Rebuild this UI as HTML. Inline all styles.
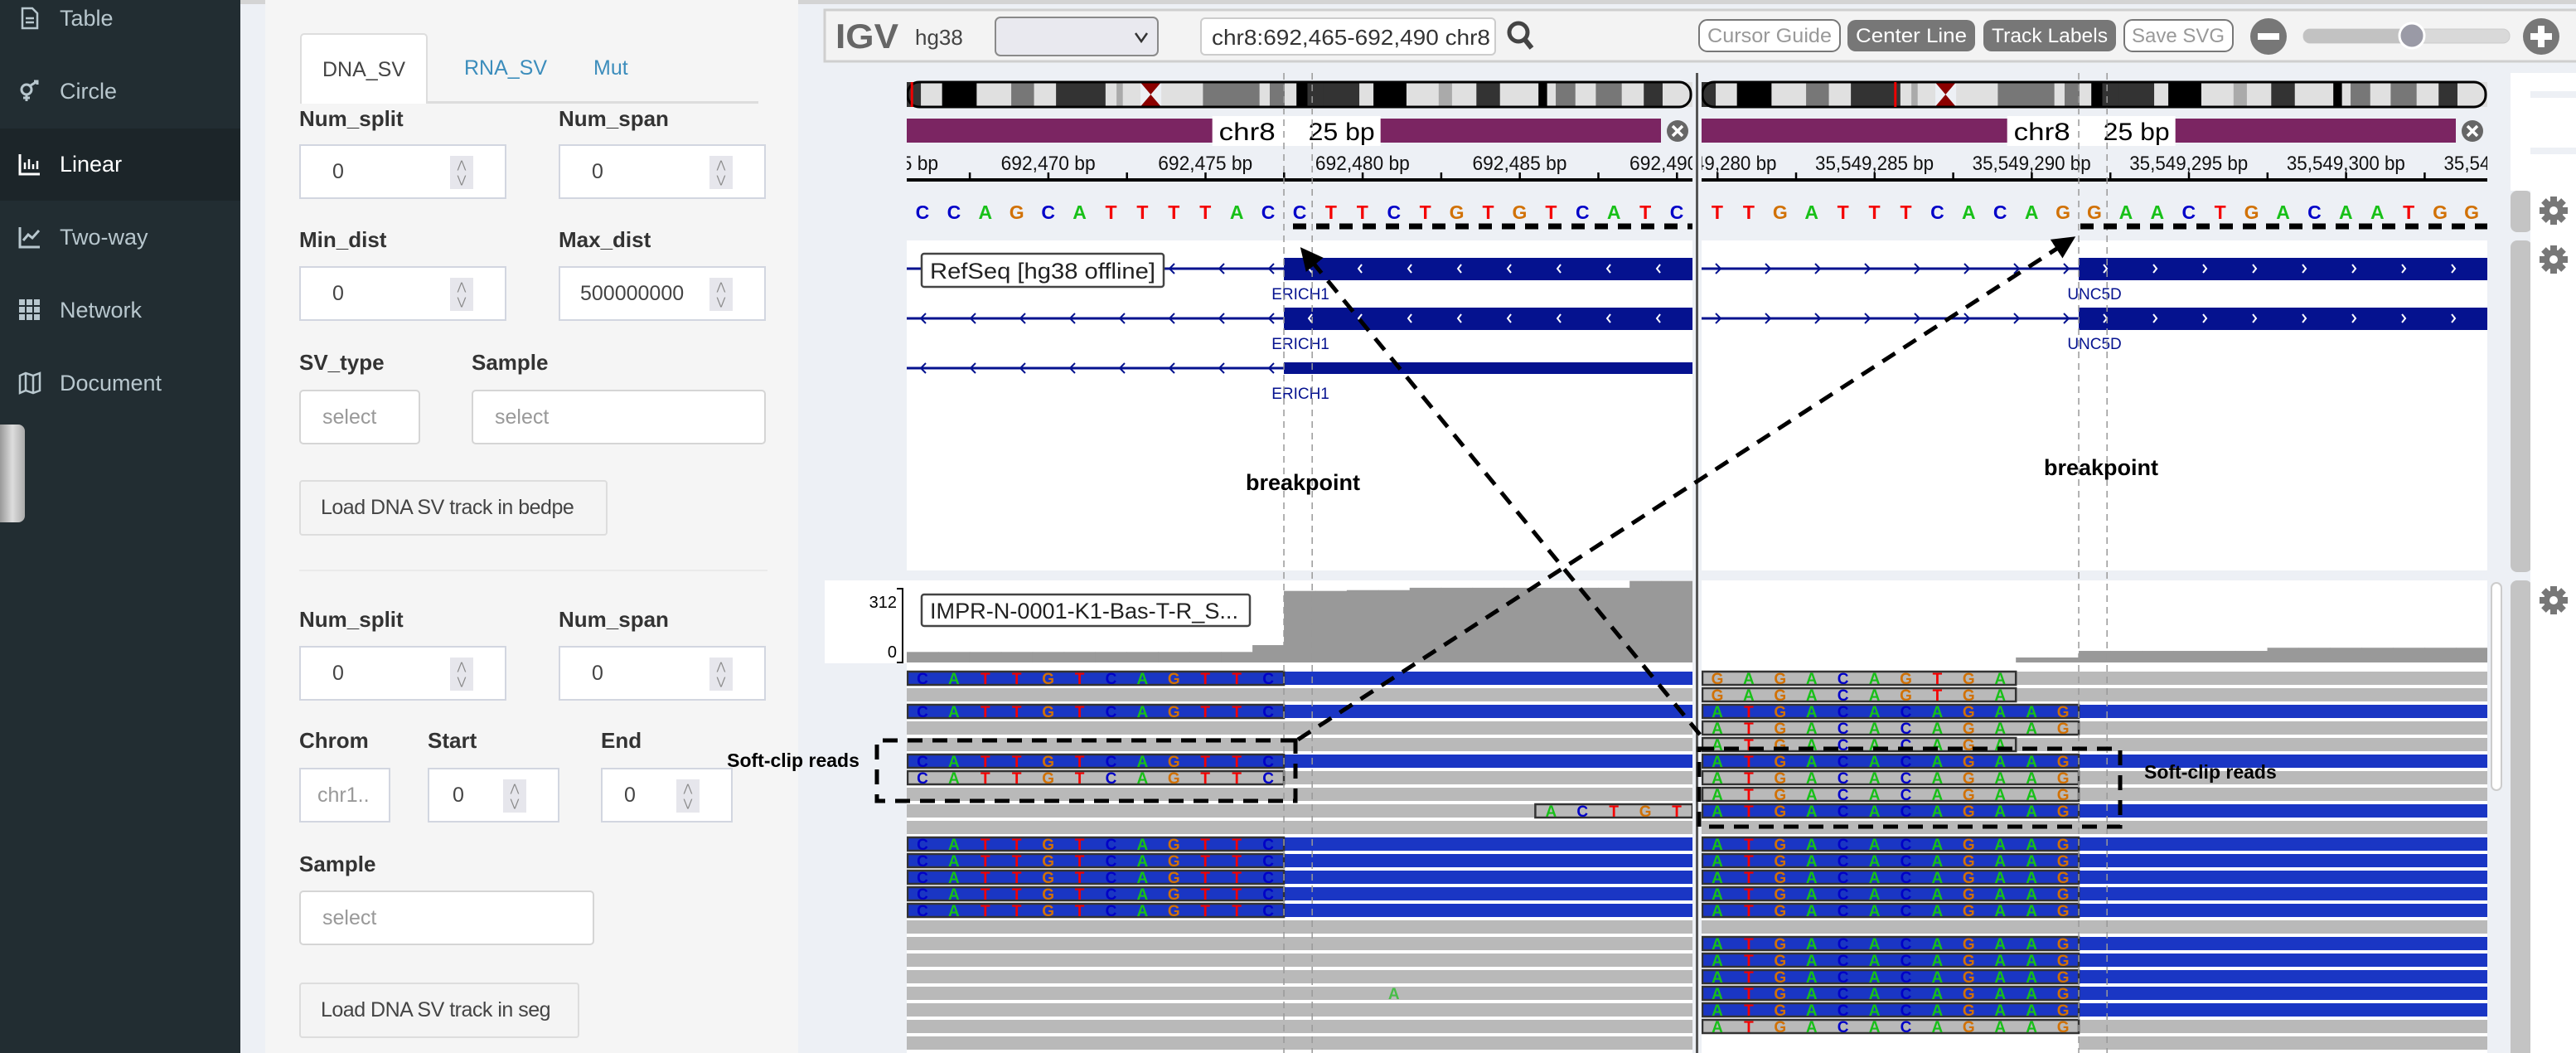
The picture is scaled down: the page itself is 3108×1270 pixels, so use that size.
<!DOCTYPE html>
<html style="overflow:hidden;width:3108px;height:1270px"><head><meta charset="utf-8"><title>IGV linear view</title>
<style>
*{box-sizing:border-box}
html,body{overflow:hidden}
body{margin:0;width:3108px;height:1270px;overflow:hidden;background:#edf0f5;font-family:"Liberation Sans",sans-serif;position:relative}
.abs{position:absolute}
#sidebar{left:0;top:0;width:290px;height:1270px;background:#222d32}
.nav{position:absolute;left:0;width:290px;height:60px;color:#b8c7ce;font-size:27px;line-height:60px;padding-left:72px;white-space:nowrap}
.nav .ic{position:absolute;left:22px;top:16px;width:28px;height:28px}
#panel{left:320px;top:0;width:643px;height:1270px;background:#f5f5f5;overflow:hidden}
.lbl{position:absolute;font-weight:bold;font-size:26px;color:#333;white-space:nowrap}
.inp{position:absolute;background:#fff;border:2px solid #d2d6e0;font-size:25px;color:#444;padding-left:38px;line-height:62px;white-space:nowrap}
.spin{position:absolute;right:38px;top:12px;width:28px;height:40px;background:#e6e6ec;color:#888;font-size:13px;text-align:center;line-height:18px;padding-top:2px}
.sel{position:absolute;background:#fff;border:2px solid #d5d5d5;border-radius:5px;font-size:25px;color:#999;padding-left:26px;line-height:62px;white-space:nowrap}
.btn{position:absolute;background:#f4f4f4;border:2px solid #ddd;border-radius:4px;font-size:25px;color:#444;padding-left:24px;line-height:62px;white-space:nowrap;letter-spacing:-0.5px}
</style></head>
<body>
<div class="abs" style="left:0;top:0;width:3108px;height:5px;background:#d4d4d4"></div>
<div id="sidebar" class="abs">
  <div class="nav" style="top:-8px"><svg class="ic" viewBox="0 0 28 28"><path d="M5 2h12l6 6v18H5z" fill="none" stroke="#b8c7ce" stroke-width="2.5"/><path d="M9 14h10M9 19h10" stroke="#b8c7ce" stroke-width="2.5"/></svg>Table</div>
  <div class="nav" style="top:80px"><svg class="ic" viewBox="0 0 28 28"><circle cx="10" cy="12" r="6" fill="none" stroke="#b8c7ce" stroke-width="3"/><path d="M10 18v8M6 22h8M15 7l8-5M19 2h4v4" stroke="#b8c7ce" stroke-width="3" fill="none"/></svg>Circle</div>
  <div class="abs" style="left:0;top:155px;width:290px;height:87px;background:#1c2529"></div>
  <div class="nav" style="top:168px;color:#fff"><svg class="ic" viewBox="0 0 28 28"><path d="M2 2v24h24" stroke="#fff" stroke-width="3" fill="none"/><path d="M8 20v-8M13 20v-12M18 20v-6M23 20v-10" stroke="#fff" stroke-width="2.5"/></svg>Linear</div>
  <div class="nav" style="top:256px"><svg class="ic" viewBox="0 0 28 28"><path d="M2 2v24h24" stroke="#b8c7ce" stroke-width="3" fill="none"/><path d="M6 18l6-7 5 4 8-9" stroke="#b8c7ce" stroke-width="3" fill="none"/></svg>Two-way</div>
  <div class="nav" style="top:344px"><svg class="ic" viewBox="0 0 28 28" fill="#b8c7ce"><rect x="1" y="1" width="7" height="7"/><rect x="10" y="1" width="7" height="7"/><rect x="19" y="1" width="7" height="7"/><rect x="1" y="10" width="7" height="7"/><rect x="10" y="10" width="7" height="7"/><rect x="19" y="10" width="7" height="7"/><rect x="1" y="19" width="7" height="7"/><rect x="10" y="19" width="7" height="7"/><rect x="19" y="19" width="7" height="7"/></svg>Network</div>
  <div class="nav" style="top:432px"><svg class="ic" viewBox="0 0 28 28"><path d="M2 5l7-3 9 3 8-3v21l-8 3-9-3-7 3z M9 2v21M18 5v21" fill="none" stroke="#b8c7ce" stroke-width="2.5"/></svg>Document</div>
  <div class="abs" style="left:0;top:512px;width:30px;height:118px;background:linear-gradient(90deg,#999,#ddd,#aaa);border-radius:0 8px 8px 0"></div>
</div>

<div id="panel" class="abs">
  <div class="abs" style="left:42px;top:40px;width:154px;height:85px;background:#fff;border:2px solid #ddd;border-bottom:none;border-radius:5px 5px 0 0;font-size:25px;color:#444;text-align:center;line-height:84px">DNA_SV</div>
  <div class="abs" style="left:240px;top:40px;font-size:25px;color:#3c8dbc;line-height:84px">RNA_SV</div>
  <div class="abs" style="left:396px;top:40px;font-size:25px;color:#3c8dbc;line-height:84px">Mut</div>
  <div class="abs" style="left:196px;top:122px;width:399px;height:3px;background:#ddd"></div>

  <div class="lbl" style="left:41px;top:128px">Num_split</div>
  <div class="lbl" style="left:354px;top:128px">Num_span</div>
  <div class="inp" style="left:41px;top:174px;width:250px;height:66px">0<div class="spin">⋀<br>⋁</div></div>
  <div class="inp" style="left:354px;top:174px;width:250px;height:66px">0<div class="spin">⋀<br>⋁</div></div>
  <div class="lbl" style="left:41px;top:274px">Min_dist</div>
  <div class="lbl" style="left:354px;top:274px">Max_dist</div>
  <div class="inp" style="left:41px;top:321px;width:250px;height:66px">0<div class="spin">⋀<br>⋁</div></div>
  <div class="inp" style="left:354px;top:321px;width:250px;height:66px;padding-left:24px">500000000<div class="spin">⋀<br>⋁</div></div>
  <div class="lbl" style="left:41px;top:422px">SV_type</div>
  <div class="lbl" style="left:249px;top:422px">Sample</div>
  <div class="sel" style="left:41px;top:470px;width:146px;height:66px">select</div>
  <div class="sel" style="left:249px;top:470px;width:355px;height:66px">select</div>
  <div class="btn" style="left:41px;top:579px;width:372px;height:67px">Load DNA SV track in bedpe</div>
  <div class="abs" style="left:41px;top:687px;width:565px;height:2px;background:#eaeaea"></div>

  <div class="lbl" style="left:41px;top:732px">Num_split</div>
  <div class="lbl" style="left:354px;top:732px">Num_span</div>
  <div class="inp" style="left:41px;top:779px;width:250px;height:66px">0<div class="spin">⋀<br>⋁</div></div>
  <div class="inp" style="left:354px;top:779px;width:250px;height:66px">0<div class="spin">⋀<br>⋁</div></div>
  <div class="lbl" style="left:41px;top:878px">Chrom</div>
  <div class="lbl" style="left:196px;top:878px">Start</div>
  <div class="lbl" style="left:405px;top:878px">End</div>
  <div class="inp" style="left:41px;top:926px;width:110px;height:66px;color:#999;padding-left:20px;overflow:hidden">chr1..</div>
  <div class="inp" style="left:196px;top:926px;width:159px;height:66px;padding-left:28px">0<div class="spin">⋀<br>⋁</div></div>
  <div class="inp" style="left:405px;top:926px;width:159px;height:66px;padding-left:26px">0<div class="spin">⋀<br>⋁</div></div>
  <div class="lbl" style="left:41px;top:1027px">Sample</div>
  <div class="sel" style="left:41px;top:1074px;width:356px;height:66px">select</div>
  <div class="btn" style="left:41px;top:1185px;width:338px;height:67px">Load DNA SV track in seg</div>
</div>

<svg id="igv" class="abs" style="left:0;top:0" width="3108" height="1270" viewBox="0 0 3108 1270" font-family="Liberation Sans, sans-serif">
  <defs>
    <clipPath id="clipL"><rect x="1094" y="80" width="948" height="1190"/></clipPath>
    <clipPath id="clipR"><rect x="2053" y="80" width="948" height="1190"/></clipPath>
    <marker id="ah" markerWidth="6" markerHeight="6" refX="4.5" refY="3" orient="auto" markerUnits="strokeWidth"><path d="M0,0.3 L5.5,3 L0,5.7 z" fill="#000"/></marker>
  </defs>
  <rect x="995" y="12" width="2120" height="62" fill="#f3f3f3" stroke="#cfcfcf" stroke-width="3"/>
  <text x="1008" y="58" font-size="42" font-weight="bold" fill="#666" textLength="76" lengthAdjust="spacingAndGlyphs">IGV</text>
  <text x="1104" y="54" font-size="26" fill="#444">hg38</text>
  <g><rect x="1201" y="21" width="196" height="46" rx="6" fill="#e9e9ef" stroke="#8a8a8a" stroke-width="2"/><path d="M1370 40l7 10 7-10" stroke="#333" stroke-width="2.5" fill="none"/></g>
  <g><rect x="1449" y="22" width="355" height="44" rx="5" fill="#fff" stroke="#ccc" stroke-width="2"/><text x="1462" y="54" font-size="26" fill="#333" textLength="336" lengthAdjust="spacingAndGlyphs">chr8:692,465-692,490 chr8</text></g>
  <g><circle cx="1832" cy="39" r="11" fill="none" stroke="#444" stroke-width="5"/><path d="M1840 48l8 10" stroke="#444" stroke-width="6"/></g>
  <g><rect x="2050" y="24" width="170" height="38" rx="10" fill="#fff" stroke="#777" stroke-width="2"/><text x="2135" y="51" font-size="24" fill="#999" text-anchor="middle" textLength="150" lengthAdjust="spacingAndGlyphs">Cursor Guide</text></g>
  <g><rect x="2229" y="24" width="154" height="38" rx="10" fill="#777"/><text x="2306" y="51" font-size="24" fill="#fff" text-anchor="middle" textLength="134" lengthAdjust="spacingAndGlyphs">Center Line</text></g>
  <g><rect x="2393" y="24" width="160" height="38" rx="10" fill="#777"/><text x="2473" y="51" font-size="24" fill="#fff" text-anchor="middle" textLength="140" lengthAdjust="spacingAndGlyphs">Track Labels</text></g>
  <g><rect x="2563" y="24" width="131" height="38" rx="10" fill="#fff" stroke="#777" stroke-width="2"/><text x="2628" y="51" font-size="24" fill="#999" text-anchor="middle" textLength="112" lengthAdjust="spacingAndGlyphs">Save SVG</text></g>
  <g><circle cx="2737" cy="44" r="22" fill="#777"/><rect x="2724" y="40" width="26" height="8" fill="#fff"/></g>
  <g><rect x="2779" y="35" width="249" height="17" rx="8" fill="#d9d9d9" stroke="#ccc"/><rect x="2779" y="35" width="131" height="17" rx="8" fill="#c2c2c2"/><circle cx="2910" cy="43" r="15" fill="#9a9aa6" stroke="#fff" stroke-width="3"/></g>
  <g><circle cx="3066" cy="44" r="22" fill="#777"/><rect x="3053" y="40" width="26" height="8" fill="#fff"/><rect x="3062" y="31" width="8" height="26" fill="#fff"/></g>

  <g id="views"></g>

  <rect x="3029" y="88" width="79" height="142" fill="#fff"/>
  <rect x="3053" y="110" width="55" height="8" fill="#edf0f5"/>
  <rect x="3053" y="178" width="55" height="8" fill="#edf0f5"/>
  <rect x="3029" y="230" width="26" height="50" rx="8" fill="#c4c4c4"/>
  <rect x="3029" y="290" width="26" height="400" rx="8" fill="#c4c4c4"/>
  <rect x="3029" y="700" width="26" height="580" rx="8" fill="#c4c4c4"/>
  <rect x="3053" y="230" width="55" height="1040" fill="#fff"/>
  <rect x="3006" y="703" width="12" height="250" rx="6" fill="#fff" stroke="#ccc" stroke-width="2"/>
  <g id="gears"></g>
</svg>

<script>
// ---------- data ----------
const basesLeft = "CCAGCATTTTACCTTCTGTGTCATC";
const basesRight = "TTGATTTCACAGGAACTGACAATGG";
const startLeft = 692466;
const startRight = 35549280;
const tickLabelsLeft = ["692,465 bp","692,470 bp","692,475 bp","692,480 bp","692,485 bp","692,490 bp"];
const tickPosLeft = [692465,692470,692475,692480,692485,692490];
const tickLabelsRight = ["35,549,280 bp","35,549,285 bp","35,549,290 bp","35,549,295 bp","35,549,300 bp","35,549,305 bp"];
const tickPosRight = [35549280,35549285,35549290,35549295,35549300,35549305];
const coverageLeft = [40,40,40,40,40,40,40,40,40,40,40,66,272,272,275,275,284,284,284,284,284,284,284,310,310];
const coverageRight = [0,0,0,0,0,0,0,0,0,0,19,19,44,44,44,44,44,44,56,56,56,56,56,56,56];
const coverageMax = 312;
const rowColorLeft = ["b","g","b","g","g","b","g","g","g","g","b","b","b","b","b","g","g","g","g","g","g","g","g"];
const rowClipLeft  = [1,0,1,0,0,1,1,0,0,0,1,1,1,1,1,0,0,0,0,0,0,0,0];
const clipSeqLeft = "CATTGTCAGTTC";
const rowColorRight = ["g","g","b","g","g","b","g","g","b","g","b","b","b","b","b","g","b","b","b","b","b","g","g"];
const rowClipRight  = [10,10,12,12,10,12,12,12,12,0,12,12,12,12,12,0,12,12,12,12,12,12,0];
const clipSeqRight12 = "ATGACACAGAAG";
const clipSeqRight10a = "GAGACAGTGA";
const clipSeqRight10b = "ATGACACAGA";
const mismatchRow = [8, 19];
const mismatchIdx = [20, 15];
const mismatchSeq = ["ACTGT", "A"];
const bandEdges = [0,0.018,0.045,0.089,0.133,0.162,0.190,0.200,0.253,0.267,0.275,0.297,0.324,0.355,0.377,0.420,0.449,0.462,0.481,0.496,0.510,0.530,0.576,0.594,0.636,0.677,0.694,0.725,0.755,0.766,0.804,0.815,0.826,0.851,0.877,0.910,0.938,0.962,0.987,1];
const bandShade = ["#333","#e0e0e0","#000","#e0e0e0","#777","#e0e0e0","#333","#333","#e0e0e0","#aaa","#e0e0e0","cen","#e0e0e0","#e0e0e0","#777","#777","#e0e0e0","#777","#e0e0e0","#000","#333","#333","#e0e0e0","#000","#e0e0e0","#aaa","#e0e0e0","#333","#e0e0e0","#e0e0e0","#000","#e0e0e0","#777","#e0e0e0","#777","#e0e0e0","#333","#e0e0e0","#e0e0e0"];
const ideoPosLeft = 0.005;
const ideoPosRight = 0.245;

// ---------- layout ----------
const NS = "http://www.w3.org/2000/svg";
const BW = 948/25;
const views = document.getElementById("views");
const baseColor = {A:"#18c018",C:"#0000c8",G:"#d17105",T:"#f40000"};
function mk(parent, tag, attrs, txt){const e=document.createElementNS(NS,tag);for(const k in attrs)e.setAttribute(k,attrs[k]);if(txt!==undefined)e.textContent=txt;parent.appendChild(e);return e;}

function drawView(x0, side){
  const isL = side==="left";
  const bases = isL?basesLeft:basesRight;
  const start = isL?startLeft:startRight;
  const bx = i => x0 + (i+0.5)*BW;
  const px = p => bx(p-start);
  const g = mk(views,"g",{"clip-path":isL?"url(#clipL)":"url(#clipR)"});
  
  

  const ideo = mk(g,"g",{});
  
  
  const W = 948;
  for(let i=0;i<bandShade.length;i++){
    const a = x0+bandEdges[i]*W, b = x0+bandEdges[i+1]*W;
    if(bandShade[i]==="cen"){
      const band = mk(ideo,"path",{d:`M${a} 99 L${b} 99 L${(a+b)/2} 114 Z M${a} 129 L${b} 129 L${(a+b)/2} 114 Z`,fill:"#8b0000"});
      
      
    } else {
      const band = mk(ideo,"rect",{x:a,y:99,width:b-a+0.5,height:30,fill:bandShade[i]});
      
      
    }
  }
  const outline = mk(ideo,"rect",{x:x0+1,y:99,width:W-3,height:30,rx:14,fill:"none",stroke:"#000","stroke-width":3});
  
  
  const pos = mk(ideo,"rect",{x:x0+(isL?ideoPosLeft:ideoPosRight)*W,y:99,width:3,height:30,fill:"#e00"});
  
  

  const barEnd = x0+W-26;
  const bar = mk(g,"rect",{x:x0,y:143,width:barEnd-x0-12,height:29,fill:"#7b2562"});
  
  
  const mid = x0+W*0.41;
  const box = mk(g,"rect",{x:mid-20,y:140,width:203,height:36,fill:"#fff"});
  
  
  const chr = mk(g,"text",{x:mid-12,y:169,"font-size":30,fill:"#000",textLength:68,lengthAdjust:"spacingAndGlyphs"},"chr8");
  
  
  const bp = mk(g,"text",{x:mid+96,y:169,"font-size":30,fill:"#000",textLength:80,lengthAdjust:"spacingAndGlyphs"},"25 bp");
  
  
  const cl = mk(g,"circle",{cx:x0+W-18,cy:158,r:13,fill:"#666"});
  
  
  const clx = mk(g,"path",{d:`M${x0+W-24} 152l12 12M${x0+W-12} 152l-12 12`,stroke:"#fff","stroke-width":3.5});
  
  

  const axis = mk(g,"rect",{x:x0,y:215,width:W,height:4,fill:"#000"});
  
  
  const tp = isL?tickPosLeft:tickPosRight, tl = isL?tickLabelsLeft:tickLabelsRight;
  for(let i=0;i<tp.length;i++){
    for(const off of [0,2.5]){
      const t = mk(g,"rect",{x:px(tp[i]+off)-1,y:208,width:2.5,height:9,fill:"#000"});
      
      
    }
    const lab = mk(g,"text",{x:px(tp[i]),y:205,"font-size":24,"text-anchor":"middle",fill:"#111",textLength:tl[i].length*(isL?11.4:11),lengthAdjust:"spacingAndGlyphs"},tl[i]);
    
    
  }

  for(let i=0;i<bases.length;i++){
    const s = mk(g,"text",{x:bx(i),y:264,"font-size":23,"font-weight":"bold","text-anchor":"middle",fill:baseColor[bases[i]]},bases[i]);
    
    
  }

  const rs = mk(g,"rect",{x:x0,y:290,width:W,height:398,fill:"#fff"});
  
  
  const exStart = bx(12)-BW/2;
  const geneName = isL?"ERICH1":"UNC5D";
  const nGenes = isL?3:2;
  const exY=[311,371,437], exH=[27,27,14], lineY=[324,384,444], labY=[361,421,481];
  const navy="#05128f";
  for(let k=0;k<nGenes;k++){
    const ln = mk(g,"rect",{x:x0,y:lineY[k]-1.5,width:exStart-x0,height:3,fill:navy});
    
    
    for(let cx=x0+20;cx<exStart-5;cx+=60){
      const ch = mk(g,"path",{d:isL?`M${cx+3} ${lineY[k]-6}l-6 6 6 6`:`M${cx-3} ${lineY[k]-6}l6 6 -6 6`,stroke:navy,"stroke-width":2,fill:"none"});
      
      
    }
    const ex = mk(g,"rect",{x:exStart,y:exY[k],width:x0+W-exStart,height:exH[k],fill:navy});
    
    
    if(k<2){
      for(let cx=exStart+32;cx<x0+W;cx+=60){
        const ch = mk(g,"path",{d:isL?`M${cx+2} ${lineY[k]-5}l-4 5 4 5`:`M${cx-2} ${lineY[k]-5}l4 5 -4 5`,stroke:"#fff","stroke-width":2,fill:"none"});
        
        
      }
    }
    const gl = mk(g,"text",{x:exStart+(isL?20:19),y:labY[k],"font-size":19,"text-anchor":"middle",fill:navy},geneName);
    
    
  }

  const al = mk(g,"rect",{x:x0,y:700,width:W,height:570,fill:"#fff"});
  
  
  const cov = isL?coverageLeft:coverageRight;
  for(let i=0;i<cov.length;i++){
    const h = cov[i]/coverageMax*99;
    if(h<=0) continue;
    const c = mk(g,"rect",{x:bx(i)-BW/2,y:799-h,width:BW+0.6,height:h,fill:"#999"});
    
    
  }

  const colors = isL?rowColorLeft:rowColorRight;
  for(let r=0;r<colors.length;r++){
    const y = 810 + r*20;
    const fill = colors[r]==="b"?"#1a36c4":"#b9b9b9";
    let rx0 = x0, rw = W;
    if(!isL && r===22){ rx0 = bx(12)-BW/2; rw = x0+W-rx0; }
    const rd = mk(g,"rect",{x:rx0,y:y,width:rw,height:16,fill:fill});
    
    
    let seq = "";
    if(isL && rowClipLeft[r]) seq = clipSeqLeft;
    if(!isL && rowClipRight[r]===12) seq = clipSeqRight12;
    if(!isL && rowClipRight[r]===10) seq = (r===4)?clipSeqRight10b:clipSeqRight10a;
    if(seq){
      const cb = mk(g,"rect",{x:x0+1,y:y,width:seq.length*BW-1,height:16,fill:fill,stroke:"#333","stroke-width":2.5});
      
      
      for(let i=0;i<seq.length;i++){
        const t = mk(g,"text",{x:bx(i),y:y+15,"font-size":19,"font-weight":"bold","text-anchor":"middle",fill:baseColor[seq[i]]},seq[i]);
        
        
      }
    }
    if(isL){
      const m = mismatchRow.indexOf(r);
      if(m>=0){
        const ms = mismatchSeq[m], mi = mismatchIdx[m];
        if(ms.length>1){
          const mb = mk(g,"rect",{x:bx(mi)-BW/2,y:y,width:ms.length*BW,height:16,fill:fill,stroke:"#333","stroke-width":2.5});
          
          
        }
        for(let i=0;i<ms.length;i++){
          const t = mk(g,"text",{x:bx(mi+i),y:y+15,"font-size":19,"font-weight":"bold","text-anchor":"middle",fill:baseColor[ms[i]],opacity:ms.length>1?1:0.7},ms[i]);
          
          
        }
      }
    }
  }

  for(const off of [0,1]){
    const gx = bx(12)-BW/2 + off*BW*0.9;
    const gl = mk(views,"line",{x1:gx,y1:88,x2:gx,y2:1270,stroke:"#999","stroke-width":1.5,"stroke-dasharray":"8 6"});
    
    
  }
}

const sc = mk(views,"rect",{x:995,y:700,width:99,height:100,fill:"#fff"});


drawView(1094,"left");
drawView(2053,"right");
const scl = mk(views,"path",{d:"M1082 710h7v89h-7",stroke:"#000","stroke-width":2,fill:"none"});


const s1 = mk(views,"text",{x:1082,y:733,"font-size":20,"text-anchor":"end",fill:"#000"},String(coverageMax));


const s0 = mk(views,"text",{x:1082,y:793,"font-size":20,"text-anchor":"end",fill:"#000"},"0");


const div = mk(views,"rect",{x:2046,y:88,width:3,height:1182,fill:"#555"});



const rlb = mk(views,"rect",{x:1112,y:306,width:292,height:40,rx:3,fill:"#fff",stroke:"#444","stroke-width":2.5});


const rlt = mk(views,"text",{x:1122,y:336,"font-size":27,fill:"#222",textLength:272,lengthAdjust:"spacingAndGlyphs"},"RefSeq [hg38 offline]");


const alb = mk(views,"rect",{x:1112,y:717,width:396,height:38,rx:3,fill:"#fff",stroke:"#444","stroke-width":2.5});


const alt = mk(views,"text",{x:1122,y:746,"font-size":27,fill:"#222",textLength:372,lengthAdjust:"spacingAndGlyphs"},"IMPR-N-0001-K1-Bas-T-R_S...");



const ann = mk(views,"g",{stroke:"#000","stroke-width":5,fill:"none","stroke-dasharray":"18 12"});


const d1 = mk(ann,"line",{x1:1560,y1:273,x2:2042,y2:273,"stroke-width":7,"stroke-dasharray":"16 12"});


const d2 = mk(ann,"line",{x1:2510,y1:273,x2:3001,y2:273,"stroke-width":7,"stroke-dasharray":"16 12"});


const a1 = mk(ann,"line",{x1:1566,y1:892,x2:2500,y2:288,"marker-end":"url(#ah)"});


const a2 = mk(ann,"line",{x1:2051,y1:886,x2:1572,y2:302,"marker-end":"url(#ah)"});


const b1 = mk(ann,"path",{d:"M1563 893 L1058 893 L1058 966 L1563 966 Z"});


const b2 = mk(ann,"rect",{x:2050,y:903,width:508,height:94});


const lt = [["breakpoint",1572,591,"middle",27,"left-breakpoint-label"],["breakpoint",2535,573,"middle",27,"right-breakpoint-label"],["Soft-clip reads",957,925,"middle",23,"left-soft-clip-label"],["Soft-clip reads",2587,939,"start",23,"right-soft-clip-label"]];
for(const t of lt){
  const e = mk(views,"text",{x:t[1],y:t[2],"font-size":t[4],"font-weight":"bold","text-anchor":t[3],fill:"#000"},t[0]);
  
  
}

const gears = document.getElementById("gears");
for(const gy of [254,313,724]){
  const gg = mk(gears,"g",{transform:`translate(3081 ${gy})`});
  
  
  for(let a=0;a<4;a++){
    const tooth = mk(gg,"rect",{x:-4,y:-17,width:8,height:34,fill:"#777",transform:`rotate(${a*45})`});
    
    
  }
  const gc = mk(gg,"circle",{r:12,fill:"#777"});
  
  
  const gh = mk(gg,"circle",{r:5,fill:"#fff"});
  
  
}
</script>
</body></html>
